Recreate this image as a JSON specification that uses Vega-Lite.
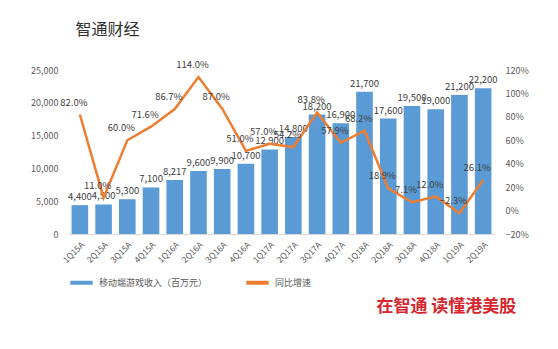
{
  "$schema": "https://vega.github.io/schema/vega-lite/v6.json",
  "background": "white",
  "padding": {"left": 30, "top": 22, "right": 12, "bottom": 8},
  "config": {
    "font": "Noto Sans CJK SC",
    "view": {"stroke": null},
    "axis": {"labelColor": "#595959", "labelFontSize": 9, "grid": false, "ticks": false, "domain": false, "title": null}
  },
  "title": {"text": "在智通  读懂港美股", "orient": "bottom", "anchor": "end", "color": "#D7262E", "fontSize": 17, "fontWeight": "bold", "offset": 8, "dx": -12},
  "data": {"values": [
    {"q": "1Q15A", "rev": 4400, "yoy": 0.820},
    {"q": "2Q15A", "rev": 4500, "yoy": 0.110},
    {"q": "3Q15A", "rev": 5300, "yoy": 0.600},
    {"q": "4Q15A", "rev": 7100, "yoy": 0.716},
    {"q": "1Q16A", "rev": 8217, "yoy": 0.867},
    {"q": "2Q16A", "rev": 9600, "yoy": 1.140},
    {"q": "3Q16A", "rev": 9900, "yoy": 0.870},
    {"q": "4Q16A", "rev": 10700, "yoy": 0.510},
    {"q": "1Q17A", "rev": 12900, "yoy": 0.570},
    {"q": "2Q17A", "rev": 14800, "yoy": 0.542},
    {"q": "3Q17A", "rev": 18200, "yoy": 0.838},
    {"q": "4Q17A", "rev": 16900, "yoy": 0.579},
    {"q": "1Q18A", "rev": 21700, "yoy": 0.682},
    {"q": "2Q18A", "rev": 17600, "yoy": 0.189},
    {"q": "3Q18A", "rev": 19500, "yoy": 0.071},
    {"q": "4Q18A", "rev": 19000, "yoy": 0.120},
    {"q": "1Q19A", "rev": 21200, "yoy": -0.023},
    {"q": "2Q19A", "rev": 22200, "yoy": 0.261}
  ]},
  "vconcat": [{
    "width": 427,
    "height": 164,
    "title": {"text": "智通财经", "anchor": "start", "frame": "bounds", "fontSize": 16, "color": "#333333", "fontWeight": "normal", "offset": 22, "dx": 45},
    "encoding": {
      "x": {"field": "q", "type": "ordinal", "sort": null,
        "scale": {"paddingInner": 0.3, "paddingOuter": 0.15},
        "axis": {"labelAngle": -45, "labelFontSize": 8.5, "domain": true, "domainColor": "#d9d9d9", "labelPadding": 6}}
    },
    "layer": [
      {
        "encoding": {
          "y": {"field": "rev", "type": "quantitative", "scale": {"domain": [0, 25000]},
            "axis": {"orient": "left", "values": [0, 5000, 10000, 15000, 20000, 25000], "labelExpr": "format(datum.value, ',')", "labelPadding": 10}}
        },
        "layer": [
          {"mark": {"type": "bar", "color": "#5B9BD5"},
           "encoding": {"color": {"datum": "移动端游戏收入（百万元）", "type": "nominal",
             "scale": {"domain": ["移动端游戏收入（百万元）", "同比增速"], "range": ["#5B9BD5", "#ED7D31"]},
             "legend": {"orient": "bottom", "direction": "horizontal", "title": null, "symbolType": "stroke", "symbolStrokeWidth": 4, "symbolSize": 500, "labelFontSize": 9, "labelColor": "#595959", "columnPadding": 30, "offset": 4}}}},
          {"mark": {"type": "text", "dy": -8, "fontSize": 9.5, "color": "#404040"},
           "encoding": {"text": {"field": "rev", "type": "quantitative", "format": ","}}}
        ]
      },
      {
        "encoding": {
          "y": {"field": "yoy", "type": "quantitative", "scale": {"domain": [-0.2, 1.2]},
            "axis": {"orient": "right", "values": [-0.2, 0, 0.2, 0.4, 0.6, 0.8, 1.0, 1.2], "labelExpr": "format(datum.value, '.0%')", "labelPadding": 10}}
        },
        "layer": [
          {"mark": {"type": "line", "strokeWidth": 2.5},
           "encoding": {"color": {"datum": "同比增速", "type": "nominal"}}},
          {"mark": {"type": "text", "dy": -12, "dx": -6, "fontSize": 9.5, "color": "#404040"},
           "encoding": {"text": {"field": "yoy", "type": "quantitative", "format": ".1%"}}}
        ]
      }
    ],
    "resolve": {"scale": {"y": "independent"}}
  }]
}
